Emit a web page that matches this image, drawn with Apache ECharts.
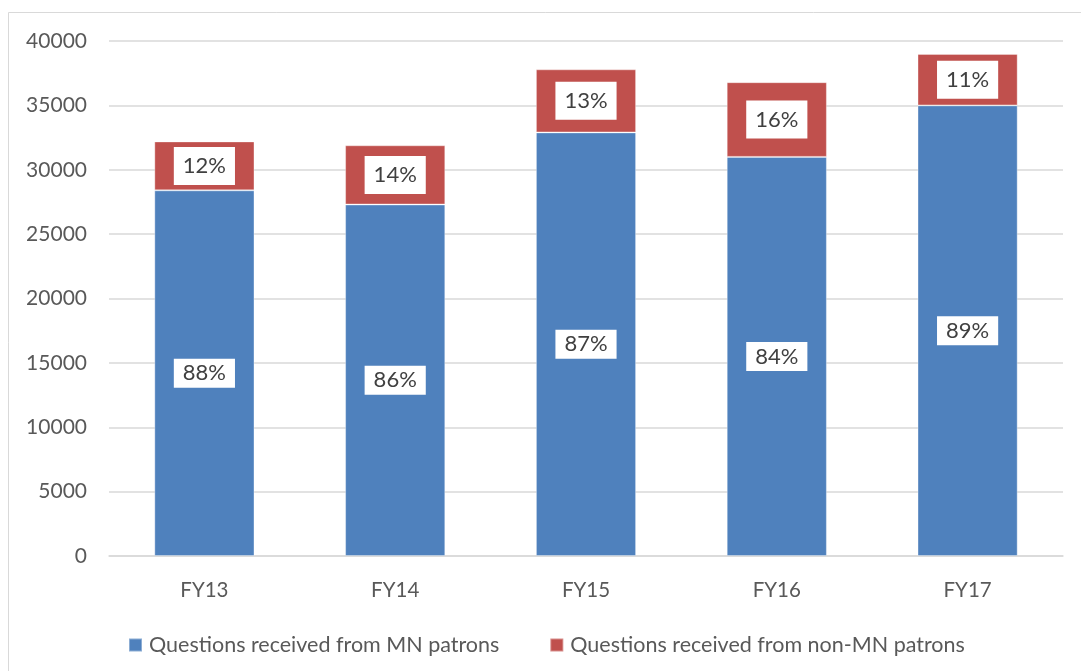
<!DOCTYPE html>
<html>
<head>
<meta charset="utf-8">
<script src="https://cdn.jsdelivr.net/npm/echarts@6/dist/echarts.min.js"></script>
<style>
html,body{margin:0;padding:0;background:#fff;}
#main{width:1081px;height:671px;}
</style>
</head>
<body>
<div id="main"></div>
<script>
// data
var years = ['FY13', 'FY14', 'FY15', 'FY16', 'FY17'];
var mnQuestions = [28400, 27300, 32900, 31000, 35000];
var nonMnQuestions = [3800, 4600, 4900, 5800, 4000];
var mnShare = ['88%', '86%', '87%', '84%', '89%'];
var nonMnShare = ['12%', '14%', '13%', '16%', '11%'];

var textColor = '#595959';
var font = 'Lato';

var myChart = echarts.init(document.getElementById('main'));

var option = {
    backgroundColor: '#fff',
    textStyle: { fontFamily: font },
    graphic: [{
        type: 'rect',
        shape: { x: 8.5, y: 12.5, width: 1200, height: 800 },
        style: { fill: 'none', stroke: '#d9d9d9', lineWidth: 1 },
        silent: true
    }],
    grid: { left: 109, right: 18, top: 41, bottom: 115 },
    legend: {
        left: 123,
        top: 629,
        itemWidth: 13,
        itemHeight: 13,
        itemGap: 50,
        icon: 'rect',
        textStyle: { color: textColor, fontSize: 21.5, fontFamily: font, padding: [0, 0, 0, 2] },
        data: ['Questions received from MN patrons', 'Questions received from non-MN patrons']
    },
    xAxis: {
        type: 'category',
        data: years,
        axisLine: { lineStyle: { color: '#d9d9d9', width: 1.5 } },
        axisTick: { show: false },
        axisLabel: { color: textColor, fontSize: 20.5, margin: 24, fontFamily: font }
    },
    yAxis: {
        type: 'value',
        min: 0,
        max: 40000,
        interval: 5000,
        axisLine: { show: false },
        axisTick: { show: false },
        splitLine: { lineStyle: { color: '#d9d9d9', width: 1.5 } },
        axisLabel: {
            color: textColor, fontSize: 21, margin: 22, fontFamily: font,
            formatter: function (v) { return String(v); }
        }
    },
    series: [{
        name: 'Questions received from MN patrons',
        type: 'bar',
        stack: 'total',
        barWidth: '52.5%',
        data: mnQuestions,
        itemStyle: { color: '#4f81bd', borderColor: 'rgba(255,255,255,0.35)', borderWidth: 1 },
        label: {
            show: true,
            position: 'inside',
            formatter: function (p) { return mnShare[p.dataIndex]; },
            backgroundColor: '#fff',
            color: '#404040',
            fontSize: 22,
            fontFamily: font,
            padding: [4, 9, 3, 9]
        }
    }, {
        name: 'Questions received from non-MN patrons',
        type: 'bar',
        stack: 'total',
        data: nonMnQuestions,
        itemStyle: { color: '#c0504d', borderColor: 'rgba(255,255,255,0.35)', borderWidth: 1 },
        label: {
            show: true,
            position: 'inside',
            formatter: function (p) { return nonMnShare[p.dataIndex]; },
            backgroundColor: '#fff',
            color: '#404040',
            fontSize: 22,
            fontFamily: font,
            padding: [8, 9, 8, 9]
        }
    }]
};
myChart.setOption(option);
</script>
</body>
</html>
